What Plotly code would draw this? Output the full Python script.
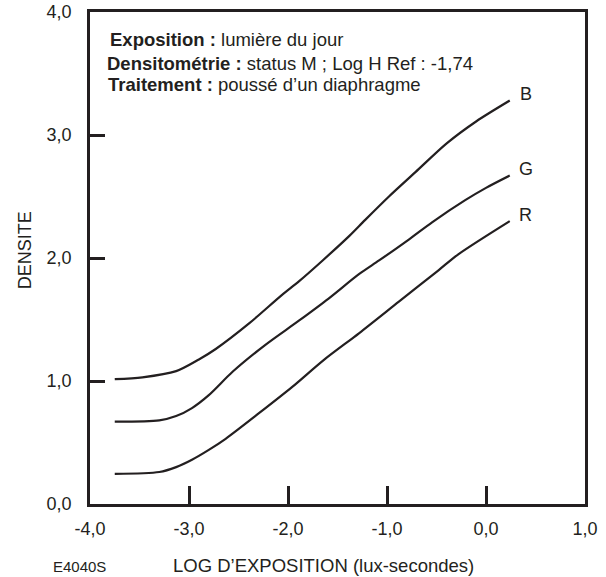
import plotly.graph_objects as go

# Data
b_x = [-3.75, -3.47, -3.13, -2.90, -2.73, -2.39, -2.06, -1.89, -1.65, -1.38, -1.22, -0.98, -0.71, -0.40, -0.10, 0.24]
b_y = [1.015, 1.03, 1.08, 1.175, 1.26, 1.47, 1.70, 1.81, 1.98, 2.18, 2.31, 2.50, 2.70, 2.93, 3.11, 3.28]

g_x = [-3.75, -3.30, -3.13, -2.97, -2.80, -2.56, -2.235, -1.89, -1.59, -1.28, -1.08, -0.78, -0.545, -0.21, 0.0, 0.24]
g_y = [0.67, 0.68, 0.715, 0.78, 0.885, 1.075, 1.29, 1.49, 1.67, 1.87, 1.98, 2.15, 2.29, 2.47, 2.57, 2.67]

r_x = [-3.75, -3.30, -3.13, -2.97, -2.80, -2.63, -2.29, -1.96, -1.64, -1.28, -0.88, -0.48, -0.28, 0.24]
r_y = [0.245, 0.26, 0.30, 0.36, 0.44, 0.53, 0.74, 0.95, 1.17, 1.39, 1.645, 1.90, 2.03, 2.30]

series_names = ["B", "G", "R"]

x_tickvals = [-4, -3, -2, -1, 0, 1]
x_ticktext = ["-4,0", "-3,0", "-2,0", "-1,0", "0,0", "1,0"]
y_tickvals = [0, 1, 2, 3, 4]
y_ticktext = ["0,0", "1,0", "2,0", "3,0", "4,0"]

info_lines = [
    "<b>Exposition :</b> lumière du jour",
    "<b>Densitométrie :</b> status M ; Log H Ref : -1,74",
    "<b>Traitement :</b> poussé d’un diaphragme",
]

INK = "#231f20"
FONT = "Liberation Sans, Arial, Helvetica, sans-serif"

fig = go.Figure()
for name, xs, ys in zip(series_names, [b_x, g_x, r_x], [b_y, g_y, r_y]):
    fig.add_trace(go.Scatter(
        x=xs, y=ys, mode="lines", name=name,
        line=dict(color=INK, width=2.2, shape="spline", smoothing=0.8),
        showlegend=False, hoverinfo="skip",
    ))
    fig.add_annotation(
        x=0.40, y=ys[-1] + 0.05, xref="x", yref="y", text=name, showarrow=False,
        xanchor="center", yanchor="middle", font=dict(size=18, color=INK, family=FONT),
    )

info_pos = [(-3.82, 3.775), (-3.845, 3.585), (-3.835, 3.41)]
for txt, (ax, ay) in zip(info_lines, info_pos):
    fig.add_annotation(
        x=ax, y=ay, xref="x", yref="y", text=txt, showarrow=False,
        xanchor="left", yanchor="middle", font=dict(size=18.5, color=INK, family=FONT),
    )

fig.add_annotation(
    x=0.472, y=-0.124, xref="paper", yref="paper", text="LOG D’EXPOSITION (lux-secondes)",
    showarrow=False, xanchor="center", yanchor="middle",
    font=dict(size=18.5, color=INK, family=FONT),
)
fig.add_annotation(
    x=-0.022, y=-0.128, xref="paper", yref="paper", text="E4040S",
    showarrow=False, xanchor="center", yanchor="middle",
    font=dict(size=15, color=INK, family=FONT),
)
fig.add_annotation(
    x=-0.131, y=0.516, xref="paper", yref="paper", text="DENSITE", textangle=-90,
    showarrow=False, xanchor="center", yanchor="middle",
    font=dict(size=18, color=INK, family=FONT),
)

fig.update_xaxes(
    range=[-4, 1], tickvals=x_tickvals, ticktext=x_ticktext,
    ticks="inside", ticklen=18, tickwidth=2.5, tickcolor=INK,
    showline=True, linewidth=2.8, linecolor=INK, mirror=True,
    showgrid=False, zeroline=False, ticklabelstandoff=6, automargin=False,
    tickfont=dict(size=18, color=INK, family=FONT),
)
fig.update_yaxes(
    range=[0, 4], tickvals=y_tickvals, ticktext=y_ticktext,
    ticks="inside", ticklen=15, tickwidth=2.5, tickcolor=INK,
    showline=True, linewidth=2.8, linecolor=INK, mirror=True,
    showgrid=False, zeroline=False, ticklabelstandoff=12, automargin=False,
    tickfont=dict(size=18, color=INK, family=FONT),
)
fig.update_layout(
    width=606, height=577,
    margin=dict(l=90, r=21, t=12, b=73, autoexpand=False),
    paper_bgcolor="white", plot_bgcolor="white",
    font=dict(family=FONT, color=INK),
)

fig.write_html("out.html")
